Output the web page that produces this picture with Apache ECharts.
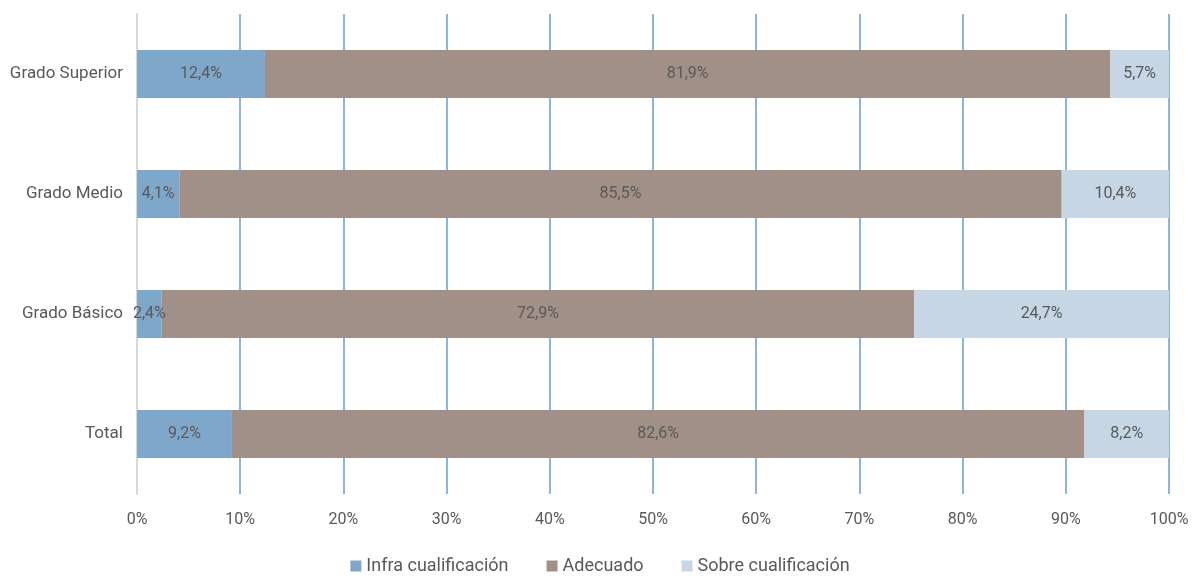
<!DOCTYPE html>
<html><head><meta charset="utf-8">
<script src="https://cdn.jsdelivr.net/npm/echarts@6/dist/echarts.min.js"></script>
<style>html,body{margin:0;padding:0;background:#fff}#c{width:1200px;height:576px}</style>
</head><body><div id="c"></div>
<script>
const categories = ['Total', 'Grado Básico', 'Grado Medio', 'Grado Superior'];
const infra = [9.2, 2.4, 4.1, 12.4];
const adecuado = [82.6, 72.9, 85.5, 81.9];
const sobre = [8.2, 24.7, 10.4, 5.7];
const seriesNames = ['Infra cualificación', 'Adecuado', 'Sobre cualificación'];
const colors = ['#7fa7ca', '#a09087', '#c6d6e4'];
const FONT = 'Roboto, sans-serif';
const fmt = v => v.toFixed(1).replace('.', ',') + '%';
const chart = echarts.init(document.getElementById('c'));
const mk = (name, data, color) => ({
  name, type: 'bar', stack: 't', data, barCategoryGap: '60%',
  itemStyle: { color },
  label: { show: true, position: 'inside', color: '#595959', fontFamily: FONT, fontSize: 16,
    formatter: p => fmt(p.value) }
});
chart.setOption({
  animation: false,
  textStyle: { fontFamily: FONT },
  grid: { left: 137, right: 31, top: 14, bottom: 82 },
  legend: { bottom: -4, left: 'center', itemWidth: 11, itemHeight: 11, itemGap: 38,
    icon: 'rect', textStyle: { color: '#595959', fontSize: 18, fontFamily: FONT } },
  xAxis: { type: 'value', min: 0, max: 100, interval: 10,
    axisLabel: { formatter: '{value}%', color: '#595959', fontSize: 16, margin: 18, fontFamily: FONT },
    splitLine: { show: true, lineStyle: { color: '#8fb4d9', width: 2 } },
    axisLine: { show: false }, axisTick: { show: false } },
  yAxis: { type: 'category', data: categories,
    axisLabel: { color: '#595959', fontSize: 17, margin: 14, fontFamily: FONT },
    axisLine: { show: true, lineStyle: { color: '#d9d9d9', width: 2 } }, axisTick: { show: false } },
  series: [mk(seriesNames[0], infra, colors[0]), mk(seriesNames[1], adecuado, colors[1]), mk(seriesNames[2], sobre, colors[2])]
});
</script></body></html>
